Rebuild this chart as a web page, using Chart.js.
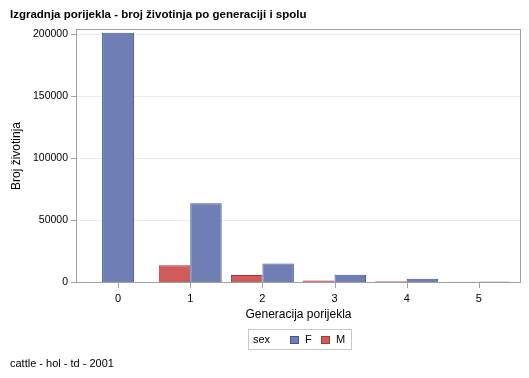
<!DOCTYPE html>
<html>
<head>
<meta charset="utf-8">
<script src="https://cdn.jsdelivr.net/npm/chart.js@4/dist/chart.umd.min.js"></script>
<style>
html,body{margin:0;padding:0;background:#fff;}
canvas{display:block;}
</style>
</head>
<body>
<canvas id="c" width="529" height="378"></canvas>
<script>
// ---- data ----
const generations = ['0', '1', '2', '3', '4', '5'];
const femaleCounts = [201000, 63500, 14900, 5800, 2700, 400];
const maleCounts = [null, 13600, 5600, 1300, 700, 150];
const yTicks = [0, 50000, 100000, 150000, 200000];
const seriesNames = ['F', 'M'];
const titleText = 'Izgradnja porijekla - broj životinja po generaciji i spolu';
const yAxisTitle = 'Broj životinja';
const xAxisTitle = 'Generacija porijekla';
const legendTitle = 'sex';
const footnoteText = 'cattle - hol - td - 2001';

const FONT = '"Liberation Sans", Arial, sans-serif';
const colF = '#6F7EB5', colFb = '#44549A';
const colM = '#D05B5B', colMb = '#A33A3A';

const decor = {
  id: 'decor',
  beforeDatasetsDraw(chart) {
    const ctx = chart.ctx, a = chart.chartArea, y = chart.scales.y;
    const L = a.left - 5, R = a.right + 5;
    ctx.save();
    ctx.strokeStyle = '#EBEBEB';
    ctx.lineWidth = 1;
    yTicks.forEach(v => {
      if (v === 0) return;
      const py = Math.round(y.getPixelForValue(v)) + 0.5;
      ctx.beginPath(); ctx.moveTo(L, py); ctx.lineTo(R, py); ctx.stroke();
    });
    ctx.restore();
  },
  afterDatasetsDraw(chart) {
    const ctx = chart.ctx, a = chart.chartArea, y = chart.scales.y, x = chart.scales.x;
    const L = a.left - 5, R = a.right + 5;
    ctx.save();
    ctx.strokeStyle = '#A0A0A0';
    ctx.lineWidth = 1;
    ctx.strokeRect(L - 0.5, a.top - 0.5, (R - L) + 1, (a.bottom - a.top) + 1);
    yTicks.forEach(v => {
      const py = Math.round(y.getPixelForValue(v)) + 0.5;
      ctx.beginPath(); ctx.moveTo(L - 6, py); ctx.lineTo(L - 1, py); ctx.stroke();
    });
    generations.forEach((g, i) => {
      const px = Math.round(x.getPixelForValue(i)) + 0.5;
      ctx.beginPath(); ctx.moveTo(px, a.bottom + 1); ctx.lineTo(px, a.bottom + 6); ctx.stroke();
    });
    ctx.restore();
  },
  afterDraw(chart) {
    const ctx = chart.ctx;
    ctx.save();
    ctx.fillStyle = '#000';
    ctx.textBaseline = 'middle';
    ctx.textAlign = 'left';
    ctx.font = 'bold 11.5px ' + FONT;
    ctx.fillText(titleText, 10, 15);
    ctx.font = '11px ' + FONT;
    ctx.fillText(footnoteText, 10, 364);
    // legend
    ctx.strokeStyle = '#C8C8C8';
    ctx.lineWidth = 1;
    ctx.strokeRect(248.5, 329.5, 103, 20);
    ctx.fillText(legendTitle, 253, 340);
    const items = [[seriesNames[0], colF, colFb, 290], [seriesNames[1], colM, colMb, 321]];
    items.forEach(([name, fill, border, sx]) => {
      ctx.fillStyle = fill;
      ctx.fillRect(sx, 336, 9, 8);
      ctx.strokeStyle = border;
      ctx.strokeRect(sx + 0.5, 336.5, 8, 7);
      ctx.fillStyle = '#000';
      ctx.fillText(name, sx + 15, 340);
    });
    ctx.restore();
  }
};

new Chart(document.getElementById('c'), {
  type: 'bar',
  data: {
    labels: generations,
    datasets: [
      { label: seriesNames[1], data: maleCounts, backgroundColor: colM, borderColor: colMb, borderWidth: 1 },
      { label: seriesNames[0], data: femaleCounts, backgroundColor: colF, borderColor: colFb, borderWidth: 1 }
    ]
  },
  options: {
    responsive: false,
    animation: false,
    devicePixelRatio: 1,
    layout: { padding: { top: 30, right: 14, left: 0, bottom: 0 } },
    datasets: {
      bar: { categoryPercentage: 0.872, barPercentage: 1, skipNull: true, maxBarThickness: 32 }
    },
    plugins: { legend: { display: false }, title: { display: false }, tooltip: { enabled: false } },
    scales: {
      x: {
        type: 'category',
        offset: true,
        grid: { display: false, drawTicks: false },
        border: { display: false },
        ticks: { font: { family: FONT, size: 11 }, color: '#000', padding: 10 },
        title: { display: true, text: xAxisTitle, font: { family: FONT, size: 12 }, color: '#000', padding: { top: 0, bottom: 56 } },
        afterFit(s) { s.height = 96; }
      },
      y: {
        min: 0,
        max: 203200,
        grid: { display: false, drawTicks: false },
        border: { display: false },
        afterBuildTicks(s) { s.ticks = yTicks.map(v => ({ value: v })); },
        ticks: { font: { family: FONT, size: 10.5 }, color: '#000', padding: 14, callback: v => String(v) },
        title: { display: true, text: yAxisTitle, font: { family: FONT, size: 12 }, color: '#000', padding: { top: 9, bottom: 0 } },
        afterFit(s) { s.width = 82; }
      }
    }
  },
  plugins: [decor]
});
</script>
</body>
</html>
